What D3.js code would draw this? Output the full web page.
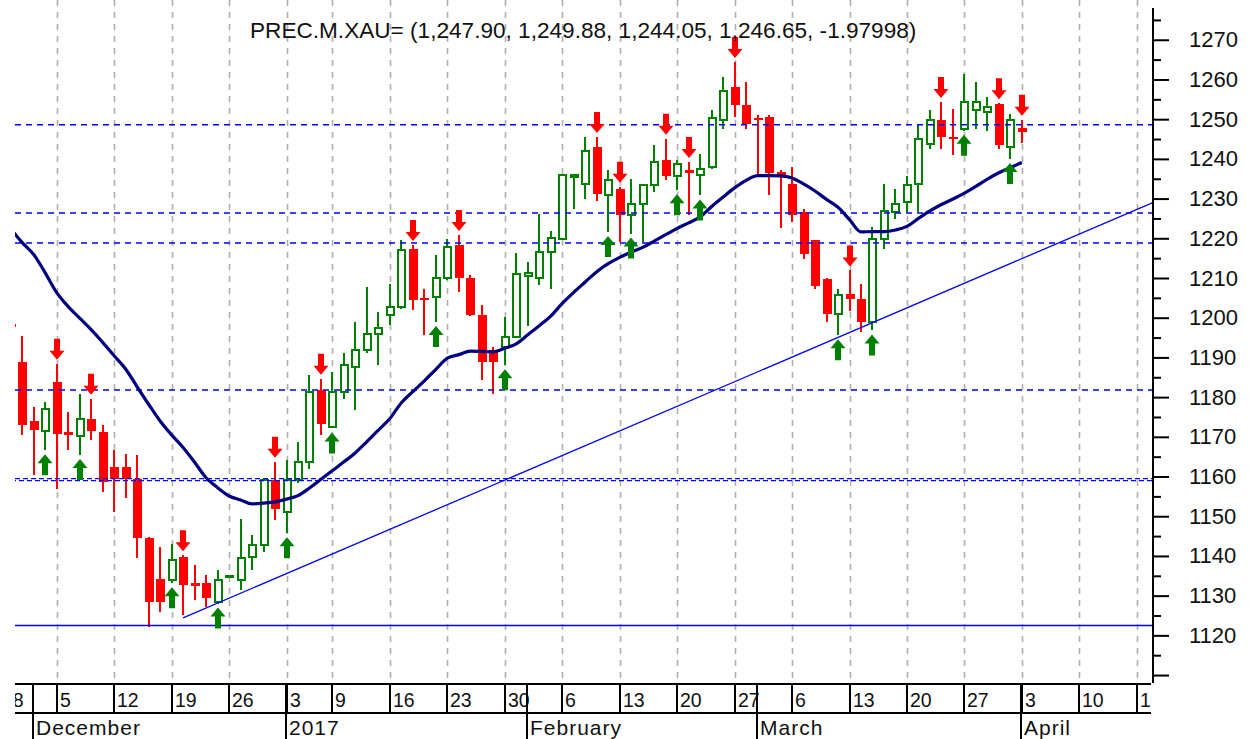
<!DOCTYPE html>
<html><head><meta charset="utf-8">
<script src="https://cdn.jsdelivr.net/npm/d3@7"></script>
<style>
body{margin:0;background:#fff;}
svg{display:block;font-family:"Liberation Sans",Arial,sans-serif;}
</style>
</head><body>
<svg id="c" width="1253" height="739"></svg>
<script>
// ---------------- DATA ----------------
const titleText = "PREC.M.XAU= (1,247.90, 1,249.88, 1,244.05, 1,246.65, -1.97998)";
// trading-day index of the first candle below (index 0 = Nov 28 2016)
const firstIndex = 1;
const open  = [1198.3,1188.9,1173.9,1171.4,1183.7,1171.2,1170.2,1174.4,1171.2,1162.4,
               1162.4,1159.5,1144.6,1134.3,1133.9,1139.8,1133.1,1133.1,1128.5,1134.6,
               1133.9,1139.8,1142.7,1159.1,1151.1,1159.1,1163.7,1181.7,1172.5,1181.3,
               1187.6,1191.8,1196.0,1200.6,1202.7,1217.4,1205.0,1205.2,1209.9,1218.2,
               1209.9,1200.6,1191.8,1192.6,1195.2,1210.4,1210.1,1216.6,1219.9,1235.5,
               1233.8,1243.0,1230.8,1232.5,1225.8,1228.7,1233.3,1239.6,1235.8,1237.1,
               1236.0,1237.9,1249.7,1258.1,1253.5,1250.4,1250.5,1236.7,1233.8,1226.6,
               1219.5,1209.8,1201.0,1206.0,1204.8,1198.9,1219.9,1226.6,1229.1,1233.7,
               1243.8,1249.7,1245.5,1247.6,1252.2,1251.8,1253.9,1243.0,1247.90];
const high  = [1198.5,1195.4,1177.5,1178.8,1188.4,1176.3,1180.9,1179.6,1172.9,1166.6,
               1165.8,1165.4,1144.8,1142.3,1143.1,1140.2,1137.7,1135.2,1136.4,1135.2,
               1149.4,1145.2,1159.3,1163.7,1164.1,1168.7,1185.5,1184.6,1186.3,1191.0,
               1199.0,1207.8,1201.5,1208.6,1219.5,1218.3,1207.3,1215.7,1219.9,1220.8,
               1210.7,1203.1,1192.6,1200.2,1216.3,1214.0,1226.2,1221.8,1236.2,1236.3,
               1245.5,1245.5,1237.1,1233.0,1235.0,1233.7,1243.4,1245.1,1239.6,1239.2,
               1241.3,1252.2,1260.6,1264.4,1259.3,1251.1,1251.0,1237.1,1238.0,1227.4,
               1219.6,1209.9,1207.3,1211.9,1208.6,1222.8,1233.7,1232.5,1235.8,1248.9,
               1252.2,1254.3,1252.6,1261.4,1259.3,1255.5,1254.0,1251.3,1249.88];
const low   = [1185.0,1170.4,1160.3,1166.6,1156.8,1166.6,1165.4,1169.1,1156.1,1151.1,
               1154.5,1139.5,1122.2,1125.9,1133.1,1125.1,1128.9,1127.2,1128.0,1134.4,
               1131.4,1136.4,1141.0,1149.0,1145.7,1158.3,1162.0,1170.4,1172.1,1179.6,
               1176.7,1191.0,1188.0,1198.1,1202.3,1201.9,1195.6,1198.9,1209.4,1206.5,
               1200.5,1184.3,1180.9,1188.0,1194.8,1198.0,1208.2,1207.3,1219.8,1227.5,
               1230.0,1229.5,1221.6,1219.1,1221.2,1219.1,1231.6,1234.6,1232.1,1225.8,
               1230.8,1237.5,1247.6,1250.5,1247.6,1236.0,1230.8,1222.6,1224.1,1214.9,
               1207.3,1198.9,1195.6,1201.8,1196.4,1196.8,1217.4,1224.9,1226.6,1226.6,
               1242.5,1242.5,1240.9,1247.1,1247.6,1247.1,1242.5,1240.0,1244.05];
const close = [1197.7,1173.1,1171.8,1177.1,1170.8,1170.4,1174.6,1171.4,1158.7,1159.5,
               1159.5,1144.6,1128.3,1128.3,1138.9,1132.7,1132.5,1129.3,1133.9,1135.0,
               1139.4,1142.7,1159.1,1151.9,1159.1,1163.7,1181.3,1173.3,1181.3,1188.0,
               1191.8,1196.0,1197.4,1202.7,1217.0,1204.4,1204.4,1209.9,1217.8,1209.9,
               1200.6,1188.9,1188.9,1195.2,1211.0,1211.3,1216.6,1220.1,1236.0,1236.0,
               1242.1,1231.2,1234.6,1225.8,1228.7,1233.3,1239.2,1235.8,1238.8,1236.5,
               1237.5,1250.3,1257.2,1253.5,1248.9,1249.7,1236.5,1235.5,1225.8,1216.1,
               1208.1,1201.0,1205.6,1204.8,1198.9,1219.9,1227.0,1228.7,1233.3,1245.1,
               1249.7,1245.5,1244.9,1254.3,1254.3,1253.0,1243.4,1249.7,1246.65];
const movingAvg = [1222.4,1218.9,1215.9,1211.3,1206.3,1202.8,1199.9,1197.0,1193.8,1190.4,
               1187.1,1182.6,1178.2,1174.0,1170.5,1167.3,1163.6,1159.7,1157.2,1155.1,
               1154.1,1153.1,1153.3,1153.6,1154.3,1155.2,1157.1,1159.3,1161.5,1163.7,
               1166.0,1168.8,1171.7,1174.6,1178.6,1181.4,1184.1,1187.0,1189.8,1190.7,
               1191.6,1191.5,1191.4,1192.3,1193.4,1195.7,1198.0,1200.4,1203.6,1206.4,
               1209.0,1211.6,1213.6,1215.2,1216.5,1217.7,1219.3,1220.9,1222.5,1223.9,
               1225.4,1228.0,1230.4,1232.7,1234.6,1235.8,1235.8,1235.7,1235.2,1233.7,
               1231.9,1229.8,1227.8,1224.7,1221.6,1221.7,1221.7,1222.1,1223.0,1225.0,
               1226.9,1228.5,1229.9,1231.4,1233.1,1234.9,1236.5,1237.8,1239.1];
const downArrowIdx = [5,8,16,24,28,36,40,52,54,58,60,64,74,82,87,89];
const upArrowIdx   = [4,7,15,19,25,29,38,44,53,55,59,61,73,76,84,88];
const dashedLevels = [1248.6,1226.35,1218.8,1181.8];
const doubleLevels = [1159.45,1158.95];
const solidLevels  = [1122.5];
const trendIdx = [16,100.4];
const trendVal = [1124.4,1229.0];
// x axis (week starts) and month labels, by trading-day index
const weekIdx    = [0,5,10,15,20,25,29,34,39,44,49,54,59,64,69,74,79,84,89,94,99];
const weekLabels = ["28","5","12","19","26","3","9","16","23","30","6","13","20","27","6","13","20","27","3","10","17"];
const monthIdx    = [3,25,46,66,89];
const monthLabels = ["December","2017","February","March","April"];
const yMajor = d3.range(1110,1271,10);
const yMinor = d3.range(1115,1276,10);
const yLabelled = d3.range(1120,1271,10);

// ---------------- LAYOUT ----------------
const svg = d3.select("#c");
const L = 15, R = 1153, T = 0, B = 683;
const x = d3.scaleLinear().domain([0,100]).range([-0.75,1148.25]);
const y = d3.scaleLinear().domain([1108,1278]).range([683,8]);
const GREEN = "#008000", RED = "#ff0000", BLUE = "#0000ff", NAVY = "#000080";

svg.append("defs").append("clipPath").attr("id","clip")
  .append("rect").attr("x",L).attr("y",T).attr("width",R-L).attr("height",B-T);
svg.select("defs").append("clipPath").attr("id","clipAx")
  .append("rect").attr("x",L).attr("y",B).attr("width",R-L-2).attr("height",739-B);

const plot = svg.append("g").attr("clip-path","url(#clip)");

// vertical grid
plot.append("g").selectAll("line").data(weekIdx).join("line")
  .attr("x1",d=>Math.round(x(d))+0.5).attr("x2",d=>Math.round(x(d))+0.5)
  .attr("y1",T).attr("y2",B)
  .attr("stroke","#b0b0b0").attr("stroke-width",1.6).attr("stroke-dasharray","6,6");

// candles
const candles = open.map((o,k)=>({i:k+firstIndex,o,h:high[k],l:low[k],c:close[k]}));
const bw = 9;
const cg = plot.append("g").attr("shape-rendering","crispEdges");
candles.forEach(d=>{
  const up = d.c >= d.o;
  const cx = Math.round(x(d.i));
  const top = y(Math.max(d.o,d.c)), bot = y(Math.min(d.o,d.c));
  if(up){
    cg.append("line").attr("x1",cx).attr("x2",cx).attr("y1",y(d.h)).attr("y2",top)
      .attr("stroke",GREEN).attr("stroke-width",2);
    cg.append("line").attr("x1",cx).attr("x2",cx).attr("y1",bot).attr("y2",y(d.l))
      .attr("stroke",GREEN).attr("stroke-width",2);
    cg.append("rect").attr("x",cx-bw/2+1).attr("y",top).attr("width",bw-2)
      .attr("height",Math.max(bot-top,1)).attr("fill","#fff")
      .attr("stroke",GREEN).attr("stroke-width",2);
  } else {
    cg.append("line").attr("x1",cx).attr("x2",cx).attr("y1",y(d.h)).attr("y2",y(d.l))
      .attr("stroke",RED).attr("stroke-width",2);
    cg.append("rect").attr("x",cx-bw/2).attr("y",top).attr("width",bw)
      .attr("height",Math.max(bot-top,2)).attr("fill",RED);
  }
});

// horizontal levels
plot.append("g").selectAll("line").data(dashedLevels).join("line")
  .attr("x1",L).attr("x2",R).attr("y1",d=>y(d)).attr("y2",d=>y(d))
  .attr("stroke",BLUE).attr("stroke-width",1.5).attr("stroke-dasharray","6,5");
plot.append("g").selectAll("line").data(doubleLevels).join("line")
  .attr("x1",L).attr("x2",R).attr("y1",d=>y(d)).attr("y2",d=>y(d))
  .attr("stroke",BLUE).attr("stroke-width",1.2).attr("stroke-dasharray","5,3")
  .attr("stroke-dashoffset",(d,k)=>k*4);
plot.append("g").selectAll("line").data(solidLevels).join("line")
  .attr("x1",L).attr("x2",R).attr("y1",d=>y(d)).attr("y2",d=>y(d))
  .attr("stroke",BLUE).attr("stroke-width",1.5);

// trend line
plot.append("line")
  .attr("x1",x(trendIdx[0])).attr("y1",y(trendVal[0]))
  .attr("x2",x(trendIdx[1])).attr("y2",y(trendVal[1]))
  .attr("stroke",BLUE).attr("stroke-width",1.3);

// moving average
plot.append("path")
  .datum(movingAvg.map((v,k)=>[k+firstIndex,v]))
  .attr("d",d3.line().x(d=>x(d[0])).y(d=>y(d[1])).curve(d3.curveMonotoneX))
  .attr("fill","none").attr("stroke",NAVY).attr("stroke-width",3.2)
  .attr("stroke-linejoin","round");

// arrows
const byIdx = new Map(candles.map(d=>[d.i,d]));
const gap = 4, sh = 12, hh = 9, sw = 6, hw = 15;
function downArrow(cx, tip){
  return `M${cx-sw/2},${tip-hh-sh}H${cx+sw/2}V${tip-hh}H${cx+hw/2}L${cx},${tip}L${cx-hw/2},${tip-hh}H${cx-sw/2}Z`;
}
function upArrow(cx, tip){
  return `M${cx-sw/2},${tip+hh+sh}H${cx+sw/2}V${tip+hh}H${cx+hw/2}L${cx},${tip}L${cx-hw/2},${tip+hh}H${cx-sw/2}Z`;
}
plot.append("g").selectAll("path").data(downArrowIdx).join("path")
  .attr("d",i=>downArrow(Math.round(x(i)), y(byIdx.get(i).h)-gap)).attr("fill",RED);
plot.append("g").selectAll("path").data(upArrowIdx).join("path")
  .attr("d",i=>upArrow(Math.round(x(i)), y(byIdx.get(i).l)+gap)).attr("fill",GREEN);

// title
svg.append("text").attr("x",250).attr("y",38).attr("font-size",22.6).attr("fill","#111")
  .text(titleText);

// right axis
const axG = svg.append("g").attr("transform",`translate(${R},0)`);
axG.append("line").attr("x1",0).attr("x2",0).attr("y1",8).attr("y2",B)
  .attr("stroke","#000").attr("stroke-width",2);
axG.append("g").call(d3.axisRight(y).tickValues(yMinor).tickSize(8).tickFormat(""))
  .call(g=>g.select(".domain").remove())
  .call(g=>g.selectAll("line").attr("stroke","#000").attr("stroke-width",2));
axG.append("g").call(d3.axisRight(y).tickValues(yMajor).tickSize(16).tickPadding(20)
    .tickFormat(d=>yLabelled.includes(d)?d3.format("d")(d):""))
  .call(g=>g.select(".domain").remove())
  .call(g=>g.selectAll("line").attr("stroke","#000").attr("stroke-width",2))
  .call(g=>g.selectAll("text").attr("font-size",22).attr("fill","#111")
    .attr("font-family","Liberation Sans, Arial, sans-serif"));

// bottom axis
const bx = svg.append("g").attr("clip-path","url(#clipAx)");
bx.append("line").attr("x1",L).attr("x2",R).attr("y1",B+1).attr("y2",B+1)
  .attr("stroke","#000").attr("stroke-width",2);
bx.append("line").attr("x1",L).attr("x2",R).attr("y1",713).attr("y2",713)
  .attr("stroke","#000").attr("stroke-width",2);
bx.append("g").selectAll("line").data(weekIdx).join("line")
  .attr("x1",d=>Math.round(x(d))).attr("x2",d=>Math.round(x(d)))
  .attr("y1",B).attr("y2",713).attr("stroke","#000").attr("stroke-width",2);
bx.append("g").selectAll("text").data(weekIdx).join("text")
  .attr("x",d=>Math.round(x(d))+3).attr("y",707).attr("font-size",19.5).attr("fill","#111")
  .text((d,k)=>weekLabels[k]);
bx.append("g").selectAll("line").data(monthIdx).join("line")
  .attr("x1",d=>Math.round(x(d))-1).attr("x2",d=>Math.round(x(d))-1)
  .attr("y1",B).attr("y2",739).attr("stroke","#000").attr("stroke-width",2);
bx.append("g").selectAll("text").data(monthIdx).join("text")
  .attr("x",d=>Math.round(x(d))+2).attr("y",735).attr("font-size",21)
  .attr("letter-spacing",1).attr("fill","#111")
  .text((d,k)=>monthLabels[k]);
</script>
</body></html>
